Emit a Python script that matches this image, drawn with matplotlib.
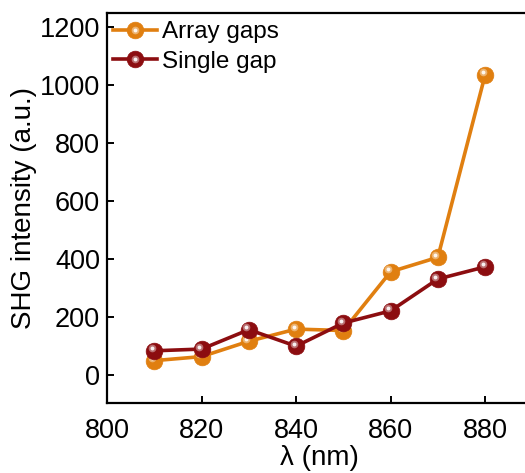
import matplotlib
matplotlib.use("Agg")
import matplotlib.pyplot as plt
from matplotlib.transforms import offset_copy
from matplotlib.legend_handler import HandlerTuple

plt.rcParams["font.family"] = ["Liberation Sans", "DejaVu Sans"]

wavelength = [810, 820, 830, 840, 850, 860, 870, 880]
array_gaps = [48, 62, 115, 157, 152, 355, 405, 1035]
single_gap = [82, 88, 155, 98, 178, 220, 330, 372]

ORANGE = "#E07F10"
DARKRED = "#8C0D10"

fig = plt.figure(figsize=(5.25, 4.73), dpi=100)
ax = fig.add_axes([0.204, 0.147, 0.81, 0.826])

# offset transform puts a glossy highlight on each ball marker
hl = offset_copy(ax.transData, fig=fig, x=-1.8, y=1.8, units="points")

handles = []
for y, col, lab in [(array_gaps, ORANGE, "Array gaps"), (single_gap, DARKRED, "Single gap")]:
    ln, = ax.plot(wavelength, y, "-o", color=col, lw=2.6, ms=12,
                  markeredgecolor=col, markeredgewidth=0.5, label=lab)
    h1, = ax.plot(wavelength, y, "o", color="white", ms=5.5, alpha=0.4,
                  markeredgewidth=0, transform=hl)
    h2, = ax.plot(wavelength, y, "o", color="white", ms=2.8, alpha=0.9,
                  markeredgewidth=0, transform=hl)
    handles.append((ln, h1, h2))

ax.set_xlim(800, 890)
ax.set_ylim(-100, 1250)
ax.set_xticks([800, 820, 840, 860, 880])
ax.set_yticks([0, 200, 400, 600, 800, 1000, 1200])
ax.tick_params(direction="in", length=5, width=1.4, labelsize=19.5)
ax.tick_params(axis="x", pad=10.5)
ax.tick_params(axis="y", pad=5)
for s in ax.spines.values():
    s.set_linewidth(1.6)

ax.set_xlabel("λ (nm)", fontsize=20, labelpad=1)
ax.set_ylabel("SHG intensity (a.u.)", fontsize=20, labelpad=2)

ax.legend(handles, ["Array gaps", "Single gap"],
          handler_map={tuple: HandlerTuple(ndivide=1, pad=0)},
          loc="upper left", frameon=False, fontsize=17.5, handlelength=1.8,
          handletextpad=0.2, labelspacing=0.3, borderaxespad=0.15,
          borderpad=0.2, bbox_to_anchor=(-0.005, 1.0))

fig.savefig("out.png", dpi=100)
